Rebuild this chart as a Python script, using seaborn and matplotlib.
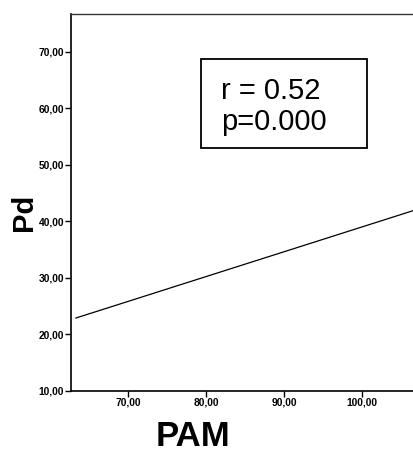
import matplotlib
matplotlib.use("Agg")
import matplotlib.pyplot as plt
import seaborn as sns
import pandas as pd
from matplotlib.patches import Rectangle

# Data (regression line endpoints)
pam = [63.3, 106.5]
pd_vals = [22.9, 41.9]
x_ticks = [70, 80, 90, 100]
y_ticks = [10, 20, 30, 40, 50, 60, 70]
stat_lines = ["r = 0.52", "p=0.000"]

sns.set_theme(style="white")
plt.rcParams['font.family'] = ['Liberation Sans', 'DejaVu Sans']

df = pd.DataFrame({"PAM": pam, "Pd": pd_vals})

fig = plt.figure(figsize=(4.13, 4.54), dpi=100)
ax = fig.add_axes([71/413, 1-391/454, (413-71)/413, (391-14)/454])

sns.lineplot(data=df, x="PAM", y="Pd", ax=ax, color="black", linewidth=0.9)

ax.set_xlim(62.7, 106.5)
ax.set_ylim(10, 76.7)
ax.set_xticks(x_ticks)
ax.set_yticks(y_ticks)
ax.set_xticklabels([f"{v:.2f}".replace(".", ",") for v in x_ticks], fontsize=7.4, fontweight="bold")
ax.set_yticklabels([f"{v:.2f}".replace(".", ",") for v in y_ticks], fontsize=7.4, fontweight="bold")
ax.tick_params(axis="both", direction="out", length=4, width=1, pad=1, colors="black", bottom=True, left=True)

for s in ["left", "bottom"]:
    ax.spines[s].set_color("black")
    ax.spines[s].set_linewidth(1.2)
ax.spines["top"].set_color("#333333")
ax.spines["top"].set_linewidth(1.0)
ax.spines["right"].set_visible(False)

ax.set_xlabel("PAM", fontsize=25, fontweight="bold", color="black")
ax.set_ylabel("Pd", fontsize=21, fontweight="bold", color="black")
ax.xaxis.set_label_coords((193-71)/342, (391-437)/377)
ax.xaxis.label.set_va("center")
ax.yaxis.set_label_coords((24-71)/342, (391-212)/377)
ax.yaxis.label.set_va("center")

# Stats box
x0, x1 = (201-71)/342, (367-71)/342
y0, y1 = (391-148)/377, (391-59)/377
ax.add_patch(Rectangle((x0, y0), x1-x0, y1-y0, transform=ax.transAxes,
                       fill=False, edgecolor="black", linewidth=1.3))
ax.text((221-71)/342, (391-99)/377, stat_lines[0], transform=ax.transAxes,
        fontsize=21, va="baseline", ha="left", color="black")
ax.text((221-71)/342, (391-130)/377, stat_lines[1], transform=ax.transAxes,
        fontsize=21, va="baseline", ha="left", color="black")

fig.savefig("out.png", dpi=100)
